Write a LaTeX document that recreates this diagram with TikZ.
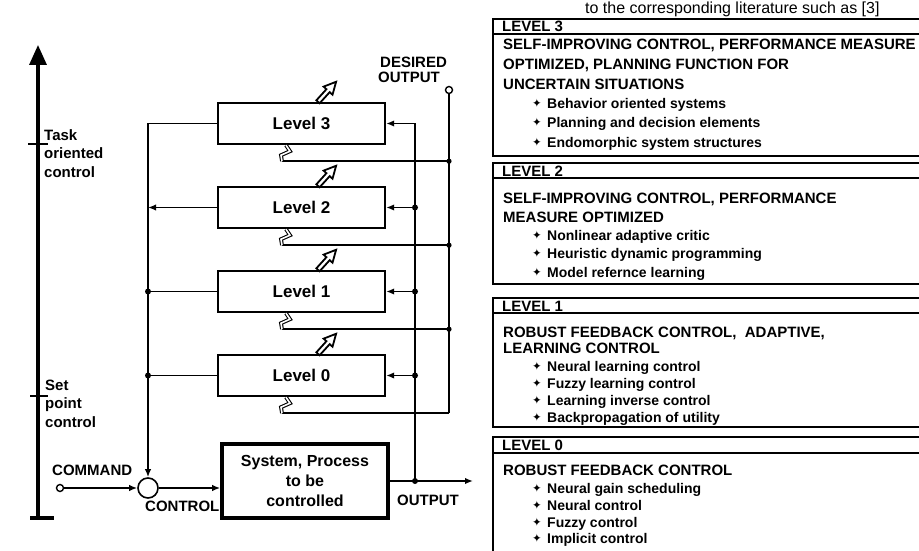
\documentclass[tikz,border=0pt]{standalone}
\usepackage{fontspec}
\setmainfont{Liberation Sans}
\newfontfamily\dvfont{DejaVu Sans}
\usetikzlibrary{arrows.meta}
\newcommand{\pbul}{\makebox[15pt][l]{\dvfont\fontsize{11.5}{11.5}\selectfont\raisebox{0.5pt}{✦}}}
\begin{document}
\begin{tikzpicture}[x=1pt,y=-1pt,
  conn/.style={line width=1.7pt},
  tipa/.style={-{Latex[length=8pt,width=6.5pt]}},
  lvl/.style={draw, line width=2.4pt, minimum width=167pt, minimum height=41pt, inner sep=0pt, font=\fontsize{17}{20}\selectfont\bfseries},
  sysbox/.style={draw, line width=3.6pt, minimum width=166pt, minimum height=74pt, inner sep=0pt, align=center, font=\fontsize{16}{20}\selectfont\bfseries},
  lbl/.style={inner sep=0pt, anchor=base west, font=\fontsize{15}{17}\selectfont\bfseries},
  hd/.style={inner sep=0pt, anchor=base west, font=\fontsize{15}{17}\selectfont\bfseries},
  itm/.style={inner sep=0pt, anchor=base west, font=\fontsize{14}{17}\selectfont\bfseries},
  panel/.style={line width=1.6pt},
  hdline/.style={line width=2pt},
  port/.style={draw, circle, line width=1.4pt, minimum size=7pt, inner sep=0pt, fill=white},
  zig/.style={double=white, double distance=1.6pt, line width=1.1pt},
  adj/.pic={\draw[line width=1.8pt, fill=white, line join=miter]
     (1.63,1.48) -- (11.70,-9.65) -- (14.52,-7.10) -- (18.12,-20.03) -- (5.62,-15.16) -- (8.44,-12.61) -- (-1.63,-1.48) -- cycle;}
]
\useasboundingbox (0,0) rectangle (919,551);
\clip (0,0) rectangle (919,551);

% caption fragment
\node[inner sep=0pt, anchor=base west, font=\fontsize{16}{18}\selectfont] (cap) at (585,14) {to the corresponding literature such as [3]};

% axis
\coordinate (ax0) at (38,518);
\coordinate (ax1) at (38,45);
\coordinate (axb1) at (30,518);
\coordinate (axb2) at (54,518);
\coordinate (t1a) at (28,144);
\coordinate (t1b) at (48,144);
\coordinate (t2a) at (30,396);
\coordinate (t2b) at (48,396);
\draw[line width=3.4pt, -{Triangle[length=20pt,width=17pt]}] (ax0) -- (ax1);
\draw[line width=3.4pt] (axb1) -- (axb2);
\draw[line width=1.6pt] (t1a) -- (t1b);
\draw[line width=1.6pt] (t2a) -- (t2b);
\node[lbl] (task1) at (44,140) {Task};
\node[lbl] (task2) at (44,158) {oriented};
\node[lbl] (task3) at (44,177) {control};
\node[lbl] (set1) at (45,390) {Set};
\node[lbl] (set2) at (45,408) {point};
\node[lbl] (set3) at (45,427) {control};

% level boxes
\node[lvl] (L3) at (301.5,123.5) {Level 3};
\node[lvl] (L2) at (301.5,207.5) {Level 2};
\node[lvl] (L1) at (301.5,291.5) {Level 1};
\node[lvl] (L0) at (301.5,375.5) {Level 0};
\node[sysbox] (sys) at (305,481) {System, Process\\to be\\controlled};

% adaptation arrows
\pic at ([xshift=16.5pt]L3.north) {adj};
\pic at ([xshift=16.5pt]L2.north) {adj};
\pic at ([xshift=16.5pt]L1.north) {adj};
\pic at ([xshift=16.5pt]L0.north) {adj};

% summing point and command
\node[draw, circle, line width=1.6pt, minimum size=20pt, inner sep=0pt] (sum) at (148,488) {};
\node[port] (cmd) at (60,488) {};
\draw[conn,tipa] (cmd) -- (sum);
\draw[conn,tipa] (sum.east) -- (sum.east -| sys.west);
\node[lbl] (cmdl) at (52,475) {COMMAND};
\node[lbl] (ctrl) at (145,511) {CONTROL};

% left feedback collector
\draw[conn,tipa] (L3.west) -- (L3.west -| sum) -- (sum.north);
\draw[conn,tipa] (L2.west) -- (L2.west -| sum);
\draw[conn] (L1.west) -- (L1.west -| sum);
\draw[conn] (L0.west) -- (L0.west -| sum);
\fill (L1.west -| sum) circle (3pt);
\fill (L0.west -| sum) circle (3pt);

% output and right feedback
\coordinate (outend) at (473,481);
\coordinate (ojn) at (415,481);
\draw[conn,tipa] (sys.east) -- (outend);
\node[lbl] (outl) at (397,505) {OUTPUT};
\draw[conn,tipa] (ojn) -- (ojn |- L3.east) -- (L3.east);
\draw[conn,tipa] (ojn |- L2.east) -- (L2.east);
\draw[conn,tipa] (ojn |- L1.east) -- (L1.east);
\draw[conn,tipa] (ojn |- L0.east) -- (L0.east);
\fill (ojn) circle (3pt);
\fill (ojn |- L2.east) circle (3pt);
\fill (ojn |- L1.east) circle (3pt);
\fill (ojn |- L0.east) circle (3pt);

% desired output and learning feedback
\node[port] (des) at (449,90) {};
\node[lbl] (des1) at (380,68) {DESIRED};
\node[lbl] (des2) at (378,82) {OUTPUT};
\coordinate (z3) at ([xshift=-19.5pt,yshift=-16pt]L3.south);
\coordinate (z2) at ([xshift=-19.5pt,yshift=-16pt]L2.south);
\coordinate (z1) at ([xshift=-19.5pt,yshift=-16pt]L1.south);
\coordinate (z0) at ([xshift=-19.5pt,yshift=-16pt]L0.south);
\draw[conn] (des) -- (des |- z0);
\draw[conn] (des |- z3) -- (z3);
\draw[conn] (des |- z2) -- (z2);
\draw[conn] (des |- z1) -- (z1);
\draw[conn] (des |- z0) -- (z0);
\fill (des |- z3) circle (2.6pt);
\fill (des |- z2) circle (2.6pt);
\fill (des |- z1) circle (2.6pt);
\draw[zig] (z3) -- ++(-1,-6) -- ++(9,-4) -- ([xshift=-15.5pt]L3.south);
\draw[zig] (z2) -- ++(-1,-6) -- ++(9,-4) -- ([xshift=-15.5pt]L2.south);
\draw[zig] (z1) -- ++(-1,-6) -- ++(9,-4) -- ([xshift=-15.5pt]L1.south);
\draw[zig] (z0) -- ++(-1,-6) -- ++(9,-4) -- ([xshift=-15.5pt]L0.south);

% panels
\draw[panel] (493,19) rectangle (935,156);
\draw[hdline] (493,34) -- (935,34);
\node[hd] (p3h) at (502,31.5) {LEVEL 3};
\node[hd] (p3a) at (503,50) {SELF-IMPROVING CONTROL, PERFORMANCE MEASURE};
\node[hd] (p3b) at (503,70) {OPTIMIZED, PLANNING FUNCTION FOR};
\node[hd] (p3c) at (503,89) {UNCERTAIN SITUATIONS};
\node[itm] (p3d) at (532,108) {\pbul Behavior oriented systems};
\node[itm] (p3e) at (532,127) {\pbul Planning and decision elements};
\node[itm] (p3f) at (532,147) {\pbul Endomorphic system structures};

\draw[panel] (493,163) rectangle (935,284);
\draw[hdline] (493,178) -- (935,178);
\node[hd] (p2h) at (502,176) {LEVEL 2};
\node[hd] (p2a) at (503,203) {SELF-IMPROVING CONTROL, PERFORMANCE};
\node[hd] (p2b) at (503,222) {MEASURE OPTIMIZED};
\node[itm] (p2c) at (532,240) {\pbul Nonlinear adaptive critic};
\node[itm] (p2d) at (532,258) {\pbul Heuristic dynamic programming};
\node[itm] (p2e) at (532,277) {\pbul Model refernce learning};

\draw[panel] (493,298) rectangle (935,427);
\draw[hdline] (493,313) -- (935,313);
\node[hd] (p1h) at (502,311) {LEVEL 1};
\node[hd] (p1a) at (503,337) {ROBUST FEEDBACK CONTROL,\ \ ADAPTIVE,};
\node[hd] (p1b) at (503,353) {LEARNING CONTROL};
\node[itm] (p1c) at (532,371) {\pbul Neural learning control};
\node[itm] (p1d) at (532,388) {\pbul Fuzzy learning control};
\node[itm] (p1e) at (532,405) {\pbul Learning inverse control};
\node[itm] (p1f) at (532,422) {\pbul Backpropagation of utility};

\draw[panel] (493,437) rectangle (935,570);
\draw[hdline] (493,453) -- (935,453);
\node[hd] (p0h) at (502,450.5) {LEVEL 0};
\node[hd] (p0a) at (503,475) {ROBUST FEEDBACK CONTROL};
\node[itm] (p0b) at (532,493) {\pbul Neural gain scheduling};
\node[itm] (p0c) at (532,510) {\pbul Neural control};
\node[itm] (p0d) at (532,527) {\pbul Fuzzy control};
\node[itm] (p0e) at (532,543) {\pbul Implicit control};
\end{tikzpicture}
\end{document}
